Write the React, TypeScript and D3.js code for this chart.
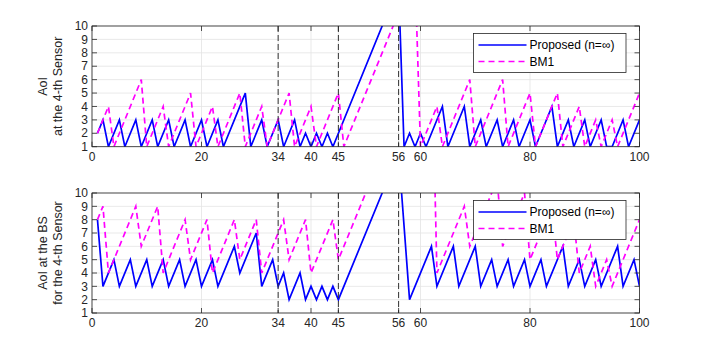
import React from 'react';
import * as d3 from 'd3';

// AoI values, as [time slot, AoI]
const sensorProposed: [number, number][] = [
  [1, 2], [2, 3], [3, 1], [5, 3], [6, 1], [8, 3], [9, 1], [11, 3], [12, 1], [14, 3], [15, 1],
  [17, 3], [18, 1], [20, 3], [21, 1], [23, 3], [24, 1], [28, 5], [29, 1], [31, 3], [32, 1],
  [34, 3], [35, 1], [37, 3], [38, 1], [39, 2], [40, 1], [41, 2], [42, 1], [43, 2], [44, 1],
  [56, 13], [57, 1], [58, 2], [59, 1], [60, 2], [61, 1], [64, 4], [65, 1], [68, 4], [69, 1],
  [71, 3], [72, 1], [74, 3], [75, 1], [77, 3], [78, 1], [80, 3], [81, 1], [84, 4], [85, 1],
  [87, 3], [88, 1], [90, 3], [91, 1], [93, 3], [94, 1], [95, 1], [97, 3], [98, 1], [100, 3],
];

const sensorBM1: [number, number][] = [
  [1, 2], [3, 4], [4, 1], [9, 6], [10, 1], [13, 4], [14, 1], [18, 5], [19, 1], [22, 4], [23, 1],
  [27, 5], [28, 1], [31, 4], [32, 1], [36, 5], [37, 1], [40, 4], [41, 1], [45, 5], [46, 1],
  [59, 14], [60, 1], [63, 4], [64, 1], [69, 6], [70, 1], [75, 6], [76, 1], [80, 5], [81, 1],
  [85, 5], [86, 1], [89, 4], [90, 1], [92, 3], [93, 1], [95, 3], [96, 1], [100, 5],
];

const bsProposed: [number, number][] = [
  [1, 8], [2, 3], [4, 5], [5, 3], [7, 5], [8, 3], [10, 5], [11, 3], [13, 5], [14, 3], [16, 5],
  [17, 3], [19, 5], [20, 3], [22, 5], [23, 3], [26, 6], [27, 4], [30, 7], [31, 3], [33, 5],
  [34, 3], [35, 4], [36, 2], [38, 4], [39, 2], [40, 3], [41, 2], [42, 3], [43, 2], [44, 3],
  [45, 2], [56, 13], [58, 2], [62, 6], [63, 3], [66, 6], [67, 3], [70, 6], [71, 3], [73, 5],
  [74, 3], [76, 5], [77, 3], [79, 5], [80, 3], [82, 5], [83, 3], [86, 6], [87, 3], [89, 5],
  [90, 3], [92, 5], [93, 3], [96, 6], [97, 3], [99, 5], [100, 3],
];

const bsBM1: [number, number][] = [
  [1, 8], [2, 9], [3, 4], [8, 9], [9, 6], [12, 9], [13, 4], [17, 8], [18, 5], [21, 8], [22, 4],
  [26, 8], [27, 5], [30, 8], [31, 4], [35, 8], [36, 5], [39, 8], [40, 4], [44, 8], [45, 5],
  [62, 22], [63, 4], [68, 9], [69, 6], [74, 11], [75, 6], [79, 10], [80, 5], [84, 9], [85, 5],
  [88, 8], [89, 4], [91, 6], [92, 3], [94, 5], [95, 3], [100, 8],
];

const xTicks = [0, 20, 34, 40, 45, 56, 60, 80, 100];
const markerTimes = [34, 45, 56];
const yTicks = [1, 2, 3, 4, 5, 6, 7, 8, 9, 10];
const legendLabels = ['Proposed (n=\u221e)', 'BM1'];
const topLabel = ['AoI', 'at the 4-th Sensor'];
const bottomLabel = ['AoI at the BS', 'for the 4-th Sensor'];

const W = 706;
const H = 353;
const FONT = '"Liberation Sans", Arial, Helvetica, sans-serif';
const AXIS = '#262626';

const x = d3.scaleLinear().domain([0, 100]).range([92, 639.5]);

type PanelProps = {
  id: string;
  top: number;
  bottom: number;
  proposed: [number, number][];
  bm1: [number, number][];
  label: string[];
};

const Panel = ({ id, top, bottom, proposed, bm1, label }: PanelProps) => {
  const y = d3.scaleLinear().domain([1, 10]).range([bottom, top]);
  const line = d3.line<[number, number]>().x(d => x(d[0])).y(d => y(d[1]));
  const [xl, xr] = x.range();
  const midY = (top + bottom) / 2;
  const tick = 5;
  const lgX = 473.5;
  const lgY = top + 7.5;

  return (
    <g>
      <defs>
        <clipPath id={id}>
          <rect x={xl} y={top} width={xr - xl} height={bottom - top} />
        </clipPath>
      </defs>
      <rect x={xl} y={top} width={xr - xl} height={bottom - top} fill="#fff" />
      {/* grid */}
      {yTicks.map(t => (
        <line key={'gy' + t} x1={xl} x2={xr} y1={y(t)} y2={y(t)} stroke="#e3e3e3" strokeWidth={0.8} />
      ))}
      {xTicks.map(t => (
        <line key={'gx' + t} x1={x(t)} x2={x(t)} y1={top} y2={bottom} stroke="#e3e3e3" strokeWidth={0.8} />
      ))}
      {/* data */}
      <g clipPath={`url(#${id})`}>
        <path d={line(proposed) || ''} fill="none" stroke="#0000ff" strokeWidth={1.7} strokeLinejoin="miter" />
        <path d={line(bm1) || ''} fill="none" stroke="#ff00ff" strokeWidth={1.7} strokeDasharray="6,4" />
      </g>
      {/* event markers */}
      {markerTimes.map(t => (
        <line key={'m' + t} x1={x(t)} x2={x(t)} y1={top} y2={bottom} stroke="#333" strokeWidth={1} strokeDasharray="6,3" />
      ))}
      {/* box + ticks */}
      <rect x={xl} y={top} width={xr - xl} height={bottom - top} fill="none" stroke={AXIS} strokeWidth={0.8} />
      {yTicks.map(t => (
        <g key={'ty' + t}>
          <line x1={xl} x2={xl + tick} y1={y(t)} y2={y(t)} stroke={AXIS} strokeWidth={0.8} />
          <line x1={xr} x2={xr - tick} y1={y(t)} y2={y(t)} stroke={AXIS} strokeWidth={0.8} />
          <text x={xl - 4} y={y(t)} dy="0.35em" textAnchor="end" fontSize={12} fill={AXIS}>{t}</text>
        </g>
      ))}
      {xTicks.map(t => (
        <g key={'tx' + t}>
          <line x1={x(t)} x2={x(t)} y1={bottom} y2={bottom - tick} stroke={AXIS} strokeWidth={0.8} />
          <line x1={x(t)} x2={x(t)} y1={top} y2={top + tick} stroke={AXIS} strokeWidth={0.8} />
          <text x={x(t)} y={bottom + 14} textAnchor="middle" fontSize={12} fill={AXIS}>{t}</text>
        </g>
      ))}
      {/* y label */}
      {label.map((s, i) => (
        <text key={'l' + i} transform={`translate(${43 + i * 15},${midY}) rotate(-90)`} dy="0.35em"
          textAnchor="middle" fontSize={12.5} fill={AXIS}>{s}</text>
      ))}
      {/* legend */}
      <rect x={lgX} y={lgY} width={152.5} height={39} fill="#fff" stroke={AXIS} strokeWidth={0.8} />
      {legendLabels.map((s, i) => (
        <g key={'lg' + i}>
          <line x1={lgX + 5} x2={lgX + 53} y1={lgY + 11.5 + i * 16.5} y2={lgY + 11.5 + i * 16.5}
            stroke={i === 0 ? '#0000ff' : '#ff00ff'} strokeWidth={1.7} strokeDasharray={i === 0 ? undefined : '6,4'} />
          <text x={lgX + 56} y={lgY + 11.5 + i * 16.5} dy="0.35em" fontSize={12} fill="#000">{s}</text>
        </g>
      ))}
    </g>
  );
};

export default function App() {
  return (
    <svg width={W} height={H} viewBox={`0 0 ${W} ${H}`}
      style={{ position: 'absolute', left: 0, top: 0, background: '#fff', fontFamily: FONT }}>
      <Panel id="clipTop" top={26} bottom={146.7} proposed={sensorProposed} bm1={sensorBM1} label={topLabel} />
      <Panel id="clipBottom" top={193} bottom={313} proposed={bsProposed} bm1={bsBM1} label={bottomLabel} />
    </svg>
  );
}
